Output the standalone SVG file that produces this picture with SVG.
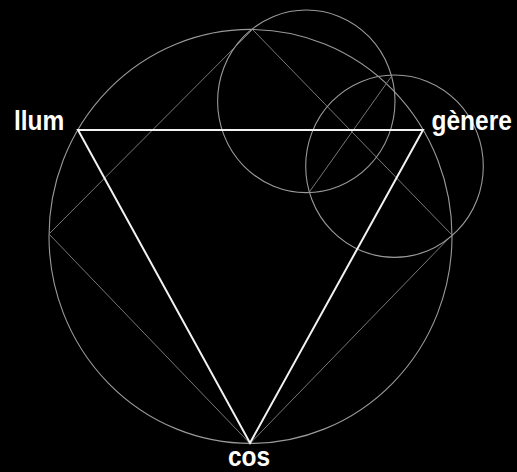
<svg xmlns="http://www.w3.org/2000/svg" width="517" height="472" viewBox="0 0 517 472">
  <style>
    .thin { fill: none; stroke: #9a9a9a; stroke-width: 1.1; }
    .sq { fill: none; stroke: #777; stroke-width: 1; }
    .tri { fill: none; stroke: #f2f2f2; stroke-width: 2; stroke-linejoin: miter; }
    .lbl { font-family: "Liberation Sans", Arial, sans-serif; font-weight: bold; font-size: 24.5px; fill: #ffffff; }
  </style>
  <rect x="0" y="0" width="517" height="472" fill="#000000"/>
  <g id="connectors">
    <ellipse id="outer" class="thin" cx="250.5" cy="236.4" rx="201.5" ry="207"/>
    <polygon id="square" class="sq" points="252.5,29.5 452,235 250,443.5 49,234"/>
    <ellipse id="circle-a" class="thin" cx="306.3" cy="101.3" rx="88.7" ry="91.3"/>
    <ellipse id="circle-b" class="thin" cx="394.5" cy="166.2" rx="88.8" ry="91.2"/>
    <line id="chord" class="sq" x1="309" y1="192.5" x2="391.7" y2="76"/>
    <polygon id="triangle" class="tri" points="78,130 423,130 250,443"/>
  </g>
  <g id="llum"><text class="lbl" transform="translate(14,130) scale(1,1.12)">llum</text></g>
  <g id="genere"><text class="lbl" transform="translate(431.5,130) scale(1,1.12)">gènere</text></g>
  <g id="cos"><text class="lbl" transform="translate(228,465.5) scale(1,1.12)">cos</text></g>
</svg>
